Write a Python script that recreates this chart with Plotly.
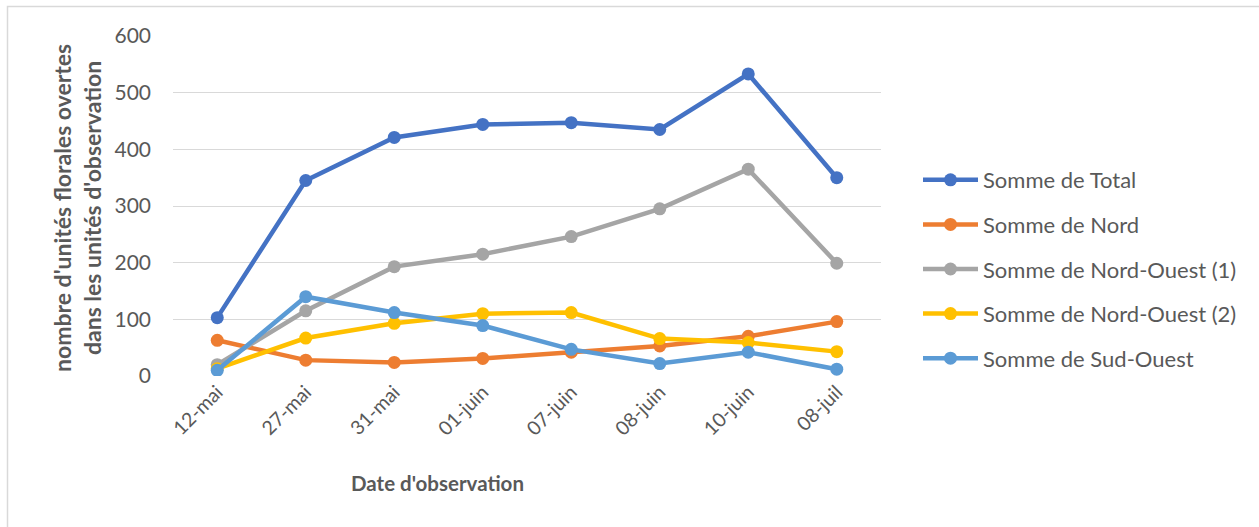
import plotly.graph_objects as go

# Observation dates (category axis)
dates = ["12-mai", "27-mai", "31-mai", "01-juin", "07-juin", "08-juin", "10-juin", "08-juil"]

# Open floral units per observation zone
somme_total = [103, 345, 421, 444, 447, 435, 533, 350]
somme_nord = [63, 28, 24, 31, 42, 53, 70, 96]
somme_no1 = [20, 115, 193, 215, 246, 295, 365, 199]
somme_no2 = [13, 67, 93, 110, 112, 66, 59, 43]
somme_so = [10, 140, 112, 89, 47, 22, 42, 12]

series = [
    ("Somme de Total", somme_total, "#4472C4"),
    ("Somme de Nord", somme_nord, "#ED7D31"),
    ("Somme de Nord-Ouest (1)", somme_no1, "#A5A5A5"),
    ("Somme de Nord-Ouest (2)", somme_no2, "#FFC000"),
    ("Somme de Sud-Ouest", somme_so, "#5B9BD5"),
]

y_ticks = [0, 100, 200, 300, 400, 500, 600]

FONT = "Lato, 'Open Sans', sans-serif"
GREY = "#595959"

W, H = 1259, 527
L, R, T, B = 173, 378, 36, 151
pw, ph = W - L - R, H - T - B

def px_x(px):
    return (px - L) / pw

def px_y(py):
    return (H - B - py) / ph

fig = go.Figure()
for i, (name, vals, color) in enumerate(series):
    fig.add_trace(go.Scatter(
        x=dates, y=vals, name=name, mode="lines+markers",
        line=dict(color=color, width=4.5),
        marker=dict(color=color, size=13),
        legendgroup=f"g{i}",
    ))

fig.update_layout(
    width=W, height=H,
    margin=dict(l=L, r=R, t=T, b=B),
    paper_bgcolor="white", plot_bgcolor="white",
    font=dict(family=FONT, color=GREY, size=19),
    showlegend=True,
    legend=dict(
        x=px_x(918), y=px_y(159), xanchor="left", yanchor="top",
        font=dict(size=22, color=GREY, family=FONT),
        itemwidth=55, tracegroupgap=13,
        bgcolor="rgba(0,0,0,0)",
    ),
    xaxis=dict(
        type="category", categoryorder="array", categoryarray=dates,
        range=[-0.5, 7.5], tickangle=-45,
        showgrid=False, zeroline=False, showline=False,
        ticks="", tickfont=dict(size=19.5, color=GREY, family=FONT),
    ),
    yaxis=dict(
        range=[0, 600], tickvals=y_ticks,
        showgrid=True, gridcolor="#D9D9D9", gridwidth=1.3,
        zeroline=False, showline=False, ticks="",
        ticklabelstandoff=21,
        tickfont=dict(size=21, color=GREY, family=FONT),
    ),
    shapes=[
        dict(type="rect", xref="paper", yref="paper",
             x0=px_x(7.5), x1=px_x(1265), y0=px_y(533), y1=px_y(6.5),
             line=dict(color="#D9D9D9", width=1.5), fillcolor="rgba(0,0,0,0)",
             layer="below"),
    ],
    annotations=[
        dict(text="nombre d'unités florales overtes<br>dans les unités d'observation",
             xref="paper", yref="paper", x=px_x(77), y=px_y(208),
             xanchor="center", yanchor="middle", textangle=-90,
             showarrow=False, align="center",
             font=dict(size=23, color=GREY, family=FONT, weight="bold")),
        dict(text="Date d'observation",
             xref="paper", yref="paper", x=px_x(437), y=px_y(483),
             xanchor="center", yanchor="middle", showarrow=False,
             font=dict(size=20.5, color=GREY, family=FONT, weight="bold")),
    ],
)

fig.write_html("out.html")
